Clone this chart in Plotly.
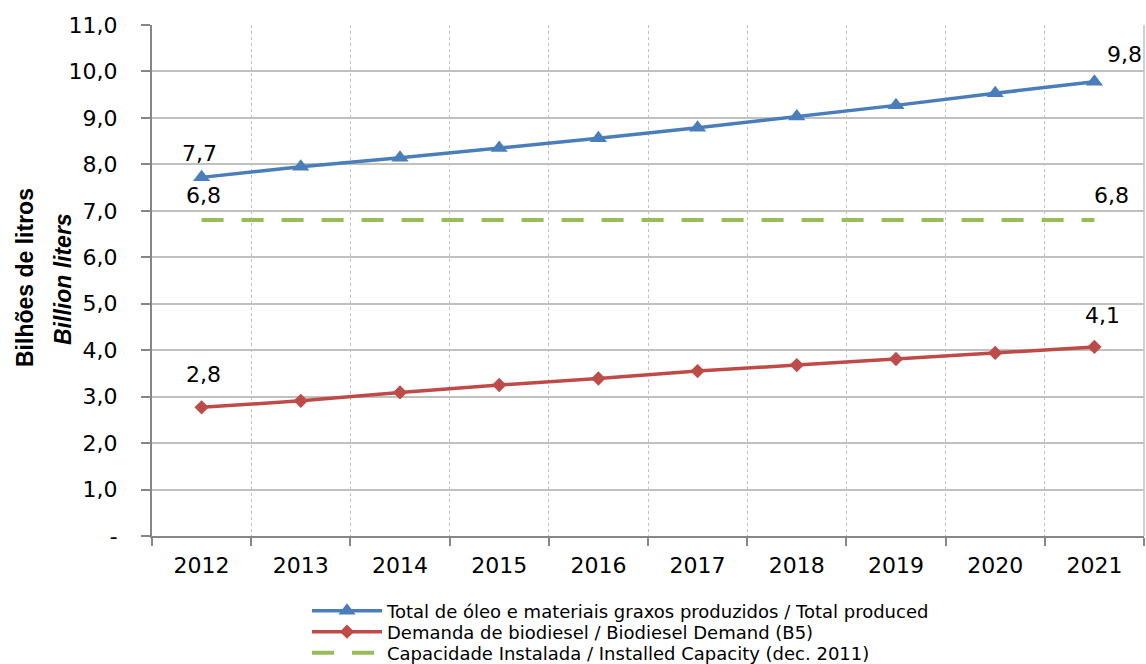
import plotly.graph_objects as go

# ---- data -------------------------------------------------------------
years = ["2012", "2013", "2014", "2015", "2016", "2017", "2018", "2019", "2020", "2021"]
total_produced = [7.72, 7.95, 8.14, 8.35, 8.56, 8.79, 9.03, 9.27, 9.53, 9.78]
biodiesel_demand = [2.77, 2.91, 3.09, 3.25, 3.39, 3.55, 3.68, 3.81, 3.94, 4.07]
installed_capacity = [6.8, 6.8, 6.8, 6.8, 6.8, 6.8, 6.8, 6.8, 6.8, 6.8]

y_tick_values = [0, 1, 2, 3, 4, 5, 6, 7, 8, 9, 10, 11]
y_tick_labels = ["-", "1,0", "2,0", "3,0", "4,0", "5,0", "6,0", "7,0", "8,0", "9,0", "10,0", "11,0"]

name_total = "Total de óleo e materiais graxos produzidos / Total produced"
name_demand = "Demanda de biodiesel / Biodiesel Demand (B5)"
name_capacity = "Capacidade Instalada / Installed Capacity (dec. 2011)"

# ---- styling ----------------------------------------------------------
W, H = 1146, 664
ML, MR, MT, MB = 152, 2, 25, 128
PW, PH = W - ML - MR, H - MT - MB

BLUE = "#4A7EBB"
RED = "#BE4B48"
GREEN = "#9BBB59"
AXIS = "#868686"
GRID = "#C0C0C0"
TICK_FONT = dict(family="DejaVu Sans, Verdana, sans-serif", size=22, color="#000000")
LEGEND_FONT = dict(family="DejaVu Sans, Tahoma, sans-serif", size=18, color="#000000")


def px_x(px):
    return (px - ML) / PW


def px_y(py):
    return 1 - (py - MT) / PH


def fmt(v):
    return f"{v:.1f}".replace(".", ",")


fig = go.Figure()

fig.add_trace(go.Scatter(
    x=years, y=total_produced, name=name_total, mode="lines+markers",
    line=dict(color=BLUE, width=3.5),
    marker=dict(symbol="triangle-up", size=15, color=BLUE),
    legend="legend",
))
fig.add_trace(go.Scatter(
    x=years, y=biodiesel_demand, name=name_demand, mode="lines+markers",
    line=dict(color=RED, width=3.5),
    marker=dict(symbol="diamond", size=11, color=RED),
    legend="legend2",
))
fig.add_trace(go.Scatter(
    x=years, y=installed_capacity, name=name_capacity, mode="lines",
    line=dict(color=GREEN, width=4, dash="22px,18px"),
    legend="legend3",
))

# value labels at the first and last year of each series (pixel offsets)
label_offsets = [
    (total_produced, 0, -2, 24),
    (total_produced, 9, 30, 27),
    (installed_capacity, 0, 2, 25),
    (installed_capacity, 9, 17, 25),
    (biodiesel_demand, 0, 2, 33),
    (biodiesel_demand, 9, 8, 31),
]
for series, idx, dx, dy in label_offsets:
    fig.add_annotation(
        x=idx, y=series[idx], text=fmt(series[idx]), showarrow=False,
        xanchor="center", yanchor="middle", xshift=dx, yshift=dy,
        font=TICK_FONT,
    )

# two-line vertical axis title
fig.add_annotation(
    xref="paper", yref="paper", x=px_x(25), y=px_y(278),
    text="<b>Bilhões de litros</b>", textangle=-90, showarrow=False,
    xanchor="center", yanchor="middle",
    font=dict(family="Liberation Sans, Arial, sans-serif", size=23, color="#000000"),
)
fig.add_annotation(
    xref="paper", yref="paper", x=px_x(63), y=px_y(279),
    text="<b><i>Billion liters</i></b>", textangle=-90, showarrow=False,
    xanchor="center", yanchor="middle",
    font=dict(family="Liberation Sans, Arial, sans-serif", size=23, color="#000000"),
)

# right border of the plotting area
fig.add_shape(type="line", xref="paper", yref="paper", x0=1, x1=1, y0=0, y1=1,
              line=dict(color=GRID, width=1.5))


def legend_box(row_center_px):
    return dict(
        x=px_x(307), y=px_y(row_center_px), xanchor="left", yanchor="middle",
        orientation="v", font=LEGEND_FONT, itemwidth=70,
        bgcolor="rgba(0,0,0,0)", borderwidth=0,
    )


fig.update_layout(
    width=W, height=H,
    margin=dict(l=ML, r=MR, t=MT, b=MB, autoexpand=False),
    paper_bgcolor="white", plot_bgcolor="white",
    showlegend=True,
    legend=legend_box(611),
    legend2=legend_box(632),
    legend3=legend_box(653),
    xaxis=dict(
        type="category", categoryorder="array", categoryarray=years,
        range=[-0.5, 9.5], autorange=False,
        tickson="boundaries", ticks="outside", ticklen=8,
        tickcolor=AXIS, tickwidth=2, showline=True, linecolor=AXIS, linewidth=2,
        showgrid=True, gridcolor=GRID, griddash="dot", gridwidth=1,
        tickfont=TICK_FONT, ticklabelstandoff=9, zeroline=False, tickangle=0,
    ),
    yaxis=dict(
        range=[0, 11], autorange=False, tickvals=y_tick_values, ticktext=y_tick_labels,
        ticks="outside", ticklen=9, tickcolor=AXIS, tickwidth=2,
        showline=True, linecolor=AXIS, linewidth=2,
        showgrid=True, gridcolor=GRID, gridwidth=1.5, zeroline=False,
        tickfont=TICK_FONT, ticklabelstandoff=19,
    ),
)

fig.write_html("out.html")
